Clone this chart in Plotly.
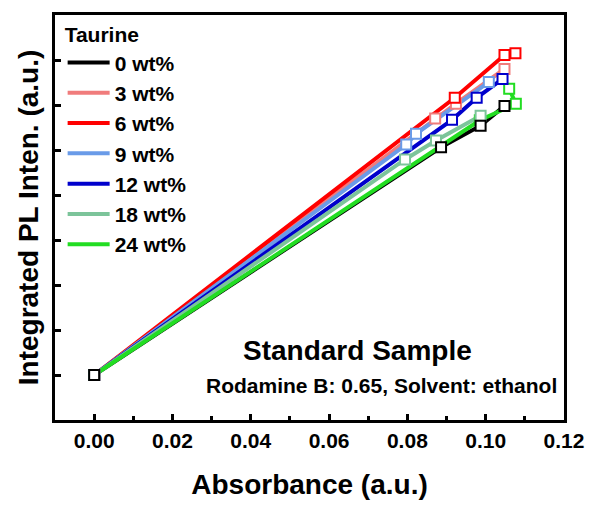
import plotly.graph_objects as go

# ---- data ----
series_names = ["0 wt%", "3 wt%", "6 wt%", "9 wt%", "12 wt%", "18 wt%", "24 wt%"]
series_colors = ["#000000", "#F07C7C", "#FF0000", "#6A9BE8", "#0000CC", "#7CC49A", "#22DD22"]

x_0 = [0.0, 0.0886, 0.0987, 0.1048]
y_0 = [0.0, 5.06, 5.54, 5.98]
x_3 = [0.0, 0.0871, 0.0924, 0.1048]
y_3 = [0.0, 5.70, 6.03, 6.80]
x_6 = [0.0, 0.0921, 0.1048, 0.1076]
y_6 = [0.0, 6.16, 7.11, 7.15]
x_9 = [0.0, 0.0797, 0.0822, 0.1008]
y_9 = [0.0, 5.12, 5.36, 6.51]
x_12 = [0.0, 0.0914, 0.0977, 0.1043]
y_12 = [0.0, 5.67, 6.16, 6.58]
x_18 = [0.0, 0.0794, 0.0873, 0.0987]
y_18 = [0.0, 4.79, 5.21, 5.76]
x_24 = [0.0, 0.0985, 0.1077, 0.1060]
y_24 = [0.0, 5.66, 6.03, 6.36]

xs = [x_0, x_3, x_6, x_9, x_12, x_18, x_24]
ys = [y_0, y_3, y_6, y_9, y_12, y_18, y_24]

x_tickvals = [0.00, 0.02, 0.04, 0.06, 0.08, 0.10, 0.12]
x_ticktext = ["0.00", "0.02", "0.04", "0.06", "0.08", "0.10", "0.12"]
y_tickvals = [0, 1, 2, 3, 4, 5, 6, 7]

FONT = "Liberation Sans, Arial, sans-serif"

fig = go.Figure()

# lines (legend entries)
for name, col, xv, yv in zip(series_names, series_colors, xs, ys):
    fig.add_trace(go.Scatter(x=xv, y=yv, mode="lines", name=name,
                             line=dict(color=col, width=4)))

# hollow square markers (black drawn last so the shared origin is black)
order = [6, 1, 2, 3, 4, 5, 0]
for i in order:
    fig.add_trace(go.Scatter(x=xs[i], y=ys[i], mode="markers", showlegend=False,
                             marker=dict(symbol="square", size=10, color="white",
                                         line=dict(color=series_colors[i], width=2))))

fig.update_layout(
    width=596, height=508,
    margin=dict(l=55, r=29, t=12, b=86),
    paper_bgcolor="white", plot_bgcolor="white",
    font=dict(family=FONT, color="black", size=21, weight="bold"),
    showlegend=True,
    legend=dict(
        title=dict(text="Taurine", font=dict(family=FONT, size=21, weight="bold")),
        font=dict(family=FONT, size=21, weight="bold"),
        x=0.015, y=1.0, xanchor="left", yanchor="top", itemwidth=42,
        bgcolor="rgba(0,0,0,0)", tracegroupgap=0,
    ),
    xaxis=dict(
        range=[-0.01, 0.12], tickvals=x_tickvals, ticktext=x_ticktext,
        ticks="inside", ticklen=6, tickwidth=3, tickcolor="black",
        minor=dict(dtick=0.01, tick0=0, ticks="inside", ticklen=4, tickwidth=3, tickcolor="black"),
        showline=True, linecolor="black", linewidth=3, mirror=True,
        showgrid=False, zeroline=False,
        tickfont=dict(family=FONT, size=21, weight="bold"),
        title=dict(text="Absorbance (a.u.)", font=dict(family=FONT, size=28, weight="bold"), standoff=24),
    ),
    yaxis=dict(
        range=[-1, 8], tickvals=y_tickvals, showticklabels=False,
        ticks="inside", ticklen=6, tickwidth=3, tickcolor="black",
        showline=True, linecolor="black", linewidth=3, mirror=True,
        showgrid=False, zeroline=False,
        title=dict(text="Integrated PL Inten. (a.u.)", font=dict(family=FONT, size=28, weight="bold"), standoff=6),
    ),
    annotations=[
        dict(text="Standard Sample", xref="paper", yref="paper", x=0.594, y=0.171,
             xanchor="center", yanchor="middle", showarrow=False,
             font=dict(family=FONT, size=28, weight="bold", color="black")),
        dict(text="Rodamine B: 0.65, Solvent: ethanol", xref="paper", yref="paper", x=0.99, y=0.085,
             xanchor="right", yanchor="middle", showarrow=False,
             font=dict(family=FONT, size=21, weight="bold", color="black")),
    ],
)

fig.write_html("out.html")
